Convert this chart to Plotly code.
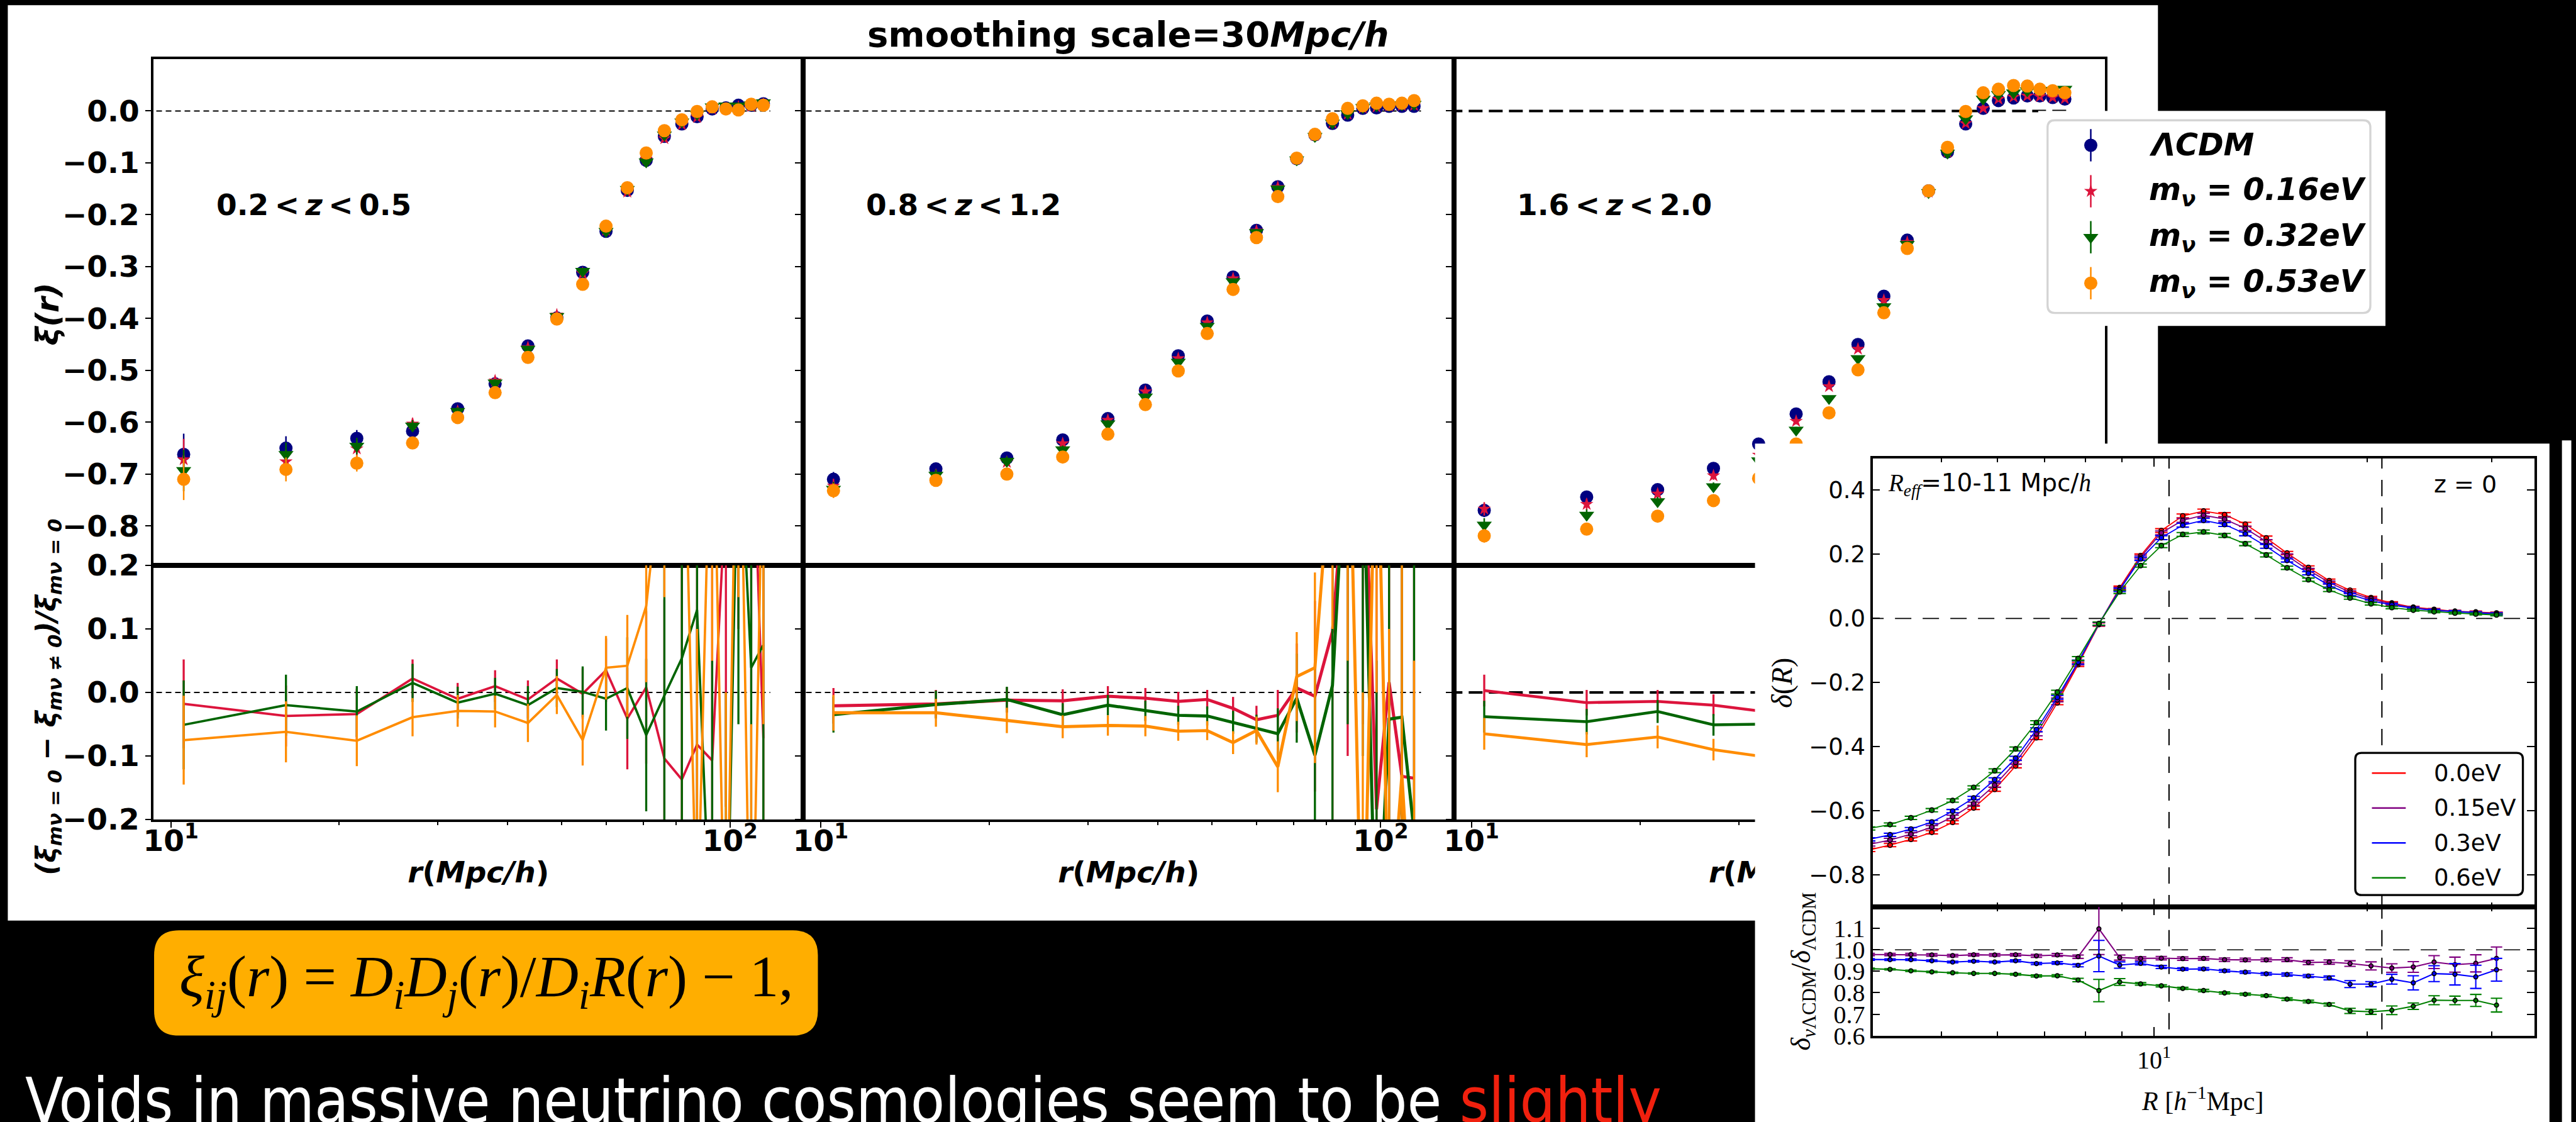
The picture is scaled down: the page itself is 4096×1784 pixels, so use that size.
import math
import plotly.graph_objects as go

# ======================= DATA =======================
# --- main figure: xi(r) for three redshift bins ---
series_names = ["<i>ΛCDM</i>", "<i>m<sub>ν</sub> = 0.16eV</i>",
                "<i>m<sub>ν</sub> = 0.32eV</i>", "<i>m<sub>ν</sub> = 0.53eV</i>"]
series_colors = ["#000080", "#DC143C", "#006400", "#FF8C00"]
series_symbols = ["circle", "star", "triangle-down", "circle"]
series_sizes = [21, 16, 21, 21]
z_bin_labels = ["0.2\u2009&lt;\u2009<i>z</i>\u2009&lt;\u20090.5",
                "0.8\u2009&lt;\u2009<i>z</i>\u2009&lt;\u20091.2",
                "1.6\u2009&lt;\u2009<i>z</i>\u2009&lt;\u20092.0"]
x_title_text = "<b><i>r</i>(<i>Mpc/h</i>)</b>"

r_bins = [10.54, 16.06, 21.5, 27.05, 32.57, 38.0, 43.5, 49.0, 54.5, 60.0,
          65.5, 70.8, 76.3, 82.0, 87.3, 92.9, 98.3, 103.5, 109.1, 114.7]

xi_z1_lcdm = [-0.662, -0.650, -0.631, -0.617, -0.574, -0.526, -0.453, -0.399, -0.311, -0.232,
              -0.153, -0.095, -0.049, -0.025, -0.011, 0.004, 0.006, 0.011, 0.011, 0.014]
xi_z1_m016 = [-0.672, -0.676, -0.651, -0.603, -0.579, -0.520, -0.456, -0.393, -0.313, -0.230,
              -0.156, -0.093, -0.053, -0.026, -0.012, 0.004, 0.004, 0.008, 0.009, 0.013]
xi_z1_m032 = [-0.693, -0.662, -0.646, -0.607, -0.579, -0.524, -0.459, -0.396, -0.309, -0.232,
              -0.151, -0.098, -0.046, -0.021, -0.006, 0.008, 0.010, 0.010, 0.012, 0.016]
xi_z1_m053 = [-0.710, -0.691, -0.679, -0.640, -0.591, -0.543, -0.475, -0.401, -0.334, -0.222,
              -0.148, -0.081, -0.038, -0.017, -0.001, 0.008, 0.004, 0.002, 0.013, 0.011]

xi_z2_lcdm = [-0.710, -0.690, -0.669, -0.634, -0.593, -0.538, -0.472, -0.405, -0.320, -0.230,
              -0.146, -0.092, -0.046, -0.024, -0.008, 0.005, 0.006, 0.009, 0.009, 0.009]
xi_z2_m016 = [-0.723, -0.702, -0.677, -0.641, -0.596, -0.541, -0.477, -0.408, -0.323, -0.231,
              -0.147, -0.092, -0.047, -0.023, -0.006, 0.006, 0.008, 0.010, 0.011, 0.011]
xi_z2_m032 = [-0.729, -0.702, -0.675, -0.653, -0.603, -0.551, -0.484, -0.415, -0.329, -0.234,
              -0.150, -0.094, -0.049, -0.023, -0.005, 0.007, 0.010, 0.011, 0.012, 0.013]
xi_z2_m053 = [-0.732, -0.712, -0.700, -0.667, -0.623, -0.566, -0.501, -0.429, -0.344, -0.244,
              -0.165, -0.091, -0.045, -0.015, 0.005, 0.010, 0.015, 0.013, 0.015, 0.020]

xi_z3_lcdm = [-0.770, -0.744, -0.730, -0.689, -0.642, -0.584, -0.522, -0.450, -0.357, -0.249,
              -0.154, -0.079, -0.025, 0.005, 0.020, 0.025, 0.029, 0.029, 0.026, 0.023]
xi_z3_m016 = [-0.767, -0.758, -0.738, -0.703, -0.663, -0.598, -0.531, -0.459, -0.365, -0.253,
              -0.156, -0.079, -0.024, 0.005, 0.023, 0.027, 0.029, 0.028, 0.026, 0.024]
xi_z3_m032 = [-0.798, -0.779, -0.753, -0.724, -0.674, -0.615, -0.554, -0.477, -0.377, -0.257,
              -0.157, -0.081, -0.015, 0.023, 0.032, 0.035, 0.039, 0.039, 0.040, 0.042]
xi_z3_m053 = [-0.819, -0.806, -0.781, -0.751, -0.708, -0.642, -0.582, -0.499, -0.389, -0.265,
              -0.154, -0.070, -0.001, 0.035, 0.042, 0.049, 0.048, 0.042, 0.039, 0.035]

xi_err_z1 = [0.040, 0.023, 0.016, 0.011, 0.008, 0.007, 0.006, 0.006, 0.005, 0.005,
             0.005, 0.005, 0.004, 0.004, 0.004, 0.004, 0.004, 0.004, 0.004, 0.004]
xi_err_z2 = [0.014, 0.011, 0.009, 0.008, 0.007, 0.006, 0.005, 0.005, 0.005, 0.004,
             0.004, 0.004, 0.004, 0.004, 0.004, 0.004, 0.004, 0.004, 0.004, 0.004]
xi_err_z3 = [0.013, 0.011, 0.009, 0.008, 0.007, 0.006, 0.005, 0.005, 0.005, 0.004,
             0.004, 0.004, 0.004, 0.004, 0.004, 0.004, 0.004, 0.004, 0.004, 0.004]

# relative difference (xi_0 - xi_m)/xi_0 for m = 0.16, 0.32, 0.53 eV
ratio_z1_m016 = [-0.018, -0.037, -0.034, 0.022, -0.010, 0.010, -0.011, 0.022, -0.002, 0.035,
                 -0.041, 0.008, -0.104, -0.137, -0.082, -0.107, 0.32, 0.60, 0.50, -0.072]
ratio_z1_m032 = [-0.051, -0.020, -0.030, 0.015, -0.016, -0.002, -0.020, 0.007, 0.001, -0.010,
                 0.007, -0.067, -0.005, 0.054, 0.130, -0.45, -0.50, 0.45, 0.039, 0.075]
ratio_z1_m053 = [-0.075, -0.062, -0.076, -0.039, -0.029, -0.030, -0.048, -0.004, -0.075, 0.039,
                 0.042, 0.136, 0.40, 0.60, -0.40, 0.55, -0.50, 0.65, -0.55, 0.45]
ratio_err_z1 = [0.070, 0.048, 0.040, 0.030, 0.025, 0.025, 0.030, 0.030, 0.040, 0.050,
                0.080, 0.120, 0.25, 0.40, 0.50, 0.50, 0.50, 0.50, 0.50, 0.50]

ratio_z2_m016 = [-0.021, -0.018, -0.012, -0.013, -0.006, -0.009, -0.014, -0.011, -0.025, -0.043,
                 -0.036, 0.007, -0.006, 0.096, 0.40, 0.45, -0.184, 0.016, -0.132, -0.135]
ratio_z2_m032 = [-0.035, -0.019, -0.011, -0.035, -0.020, -0.029, -0.036, -0.037, -0.047, -0.057,
                 -0.065, -0.009, -0.099, 0.011, 0.45, 0.40, -0.45, -0.042, -0.039, -0.22]
ratio_z2_m053 = [-0.032, -0.032, -0.044, -0.054, -0.052, -0.053, -0.061, -0.060, -0.079, -0.060,
                 -0.117, 0.025, 0.039, 0.40, 0.55, -0.50, 0.50, -0.40, -0.13, -0.45]
ratio_err_z2 = [0.028, 0.022, 0.020, 0.018, 0.016, 0.016, 0.015, 0.015, 0.018, 0.022,
                0.040, 0.070, 0.15, 0.30, 0.50, 0.50, 0.50, 0.50, 0.50, 0.50]

ratio_z3_m016 = [0.003, -0.016, -0.014, -0.020, -0.029]
ratio_z3_m032 = [-0.038, -0.046, -0.030, -0.051, -0.050]
ratio_z3_m053 = [-0.065, -0.082, -0.070, -0.090, -0.100]
ratio_err_z3 = [0.025, 0.020, 0.018, 0.017, 0.017]

xi_ticks = [-0.8, -0.7, -0.6, -0.5, -0.4, -0.3, -0.2, -0.1, 0.0]
ratio_ticks = [-0.2, -0.1, 0.0, 0.1, 0.2]
r_major_ticks = [10, 100]
r_major_text = ["<b>10<sup>1</sup></b>", "<b>10<sup>2</sup></b>"]
r_minor_ticks = [20, 30, 40, 50, 60, 70, 80, 90]
zero_line_r_end = [118.0, 118.0, 118.0]

# --- inset: void density profiles ---
inset_names = ["0.0eV", "0.15eV", "0.3eV", "0.6eV"]
inset_colors = ["#FF0000", "#800080", "#0000FF", "#008000"]
R_void = [3.955, 4.233, 4.531, 4.850, 5.190, 5.558, 5.952, 6.371, 6.818, 7.298, 7.809,
          8.356, 8.942, 9.572, 10.24, 10.98, 11.75, 12.58, 13.46, 14.41, 15.42,
          16.53, 17.69, 18.93, 20.27, 21.69, 23.26, 24.89, 26.64, 28.51, 30.50]
delta_00 = [-0.722, -0.707, -0.689, -0.667, -0.636, -0.591, -0.533, -0.460, -0.372, -0.263, -0.144,
            -0.019, 0.096, 0.196, 0.274, 0.320, 0.335, 0.324, 0.294, 0.251, 0.204,
            0.159, 0.118, 0.088, 0.065, 0.048, 0.035, 0.028, 0.022, 0.020, 0.017]
delta_015 = [-0.705, -0.691, -0.673, -0.651, -0.619, -0.578, -0.520, -0.449, -0.360, -0.254, -0.139,
             -0.017, 0.092, 0.191, 0.267, 0.306, 0.322, 0.310, 0.281, 0.240, 0.196,
             0.151, 0.112, 0.082, 0.061, 0.045, 0.034, 0.027, 0.022, 0.019, 0.016]
delta_03 = [-0.689, -0.675, -0.657, -0.635, -0.601, -0.560, -0.503, -0.436, -0.347, -0.246, -0.136,
            -0.017, 0.089, 0.186, 0.252, 0.291, 0.306, 0.293, 0.264, 0.225, 0.181,
            0.141, 0.103, 0.075, 0.055, 0.042, 0.032, 0.025, 0.021, 0.017, 0.014]
delta_06 = [-0.655, -0.643, -0.622, -0.598, -0.568, -0.527, -0.475, -0.407, -0.325, -0.230, -0.125,
            -0.016, 0.083, 0.165, 0.227, 0.262, 0.270, 0.259, 0.233, 0.198, 0.158,
            0.121, 0.089, 0.064, 0.046, 0.034, 0.026, 0.021, 0.017, 0.014, 0.011]
delta_err = [0.005, 0.005, 0.005, 0.005, 0.005, 0.005, 0.006, 0.006, 0.006, 0.006, 0.006,
             0.005, 0.005, 0.005, 0.006, 0.006, 0.006, 0.006, 0.006, 0.006, 0.005,
             0.005, 0.005, 0.004, 0.004, 0.004, 0.003, 0.003, 0.003, 0.003, 0.003]

ratio_015 = [0.978, 0.978, 0.978, 0.976, 0.973, 0.977, 0.976, 0.977, 0.972, 0.976, 0.968,
             1.098, 0.964, 0.960, 0.961, 0.959, 0.960, 0.954, 0.953, 0.953, 0.954,
             0.941, 0.943, 0.936, 0.925, 0.915, 0.920, 0.943, 0.931, 0.937, 0.960]
ratio_03 = [0.955, 0.954, 0.954, 0.949, 0.943, 0.947, 0.943, 0.949, 0.936, 0.939, 0.928,
            0.971, 0.929, 0.937, 0.920, 0.910, 0.911, 0.902, 0.896, 0.888, 0.885,
            0.878, 0.869, 0.840, 0.840, 0.863, 0.846, 0.889, 0.886, 0.874, 0.907]
ratio_06 = [0.912, 0.909, 0.902, 0.897, 0.893, 0.890, 0.890, 0.886, 0.878, 0.879, 0.859,
            0.810, 0.850, 0.841, 0.832, 0.820, 0.810, 0.799, 0.793, 0.786, 0.770,
            0.759, 0.745, 0.715, 0.711, 0.718, 0.737, 0.765, 0.764, 0.764, 0.742]
ratio_015_err = [0.006, 0.006, 0.006, 0.006, 0.006, 0.006, 0.006, 0.006, 0.007, 0.007, 0.008,
                 0.120, 0.012, 0.008, 0.008, 0.008, 0.008, 0.008, 0.008, 0.008, 0.009,
                 0.010, 0.010, 0.013, 0.019, 0.020, 0.025, 0.030, 0.035, 0.040, 0.053]
ratio_03_err = [0.004, 0.004, 0.004, 0.004, 0.004, 0.004, 0.004, 0.005, 0.005, 0.006, 0.007,
                0.073, 0.015, 0.007, 0.007, 0.006, 0.006, 0.006, 0.006, 0.006, 0.007,
                0.007, 0.009, 0.016, 0.012, 0.023, 0.033, 0.037, 0.050, 0.054, 0.053]
ratio_06_err = [0.003, 0.003, 0.003, 0.003, 0.003, 0.003, 0.003, 0.004, 0.005, 0.005, 0.008,
                0.052, 0.016, 0.006, 0.005, 0.005, 0.006, 0.005, 0.005, 0.005, 0.006,
                0.006, 0.007, 0.012, 0.012, 0.020, 0.015, 0.021, 0.020, 0.028, 0.032]
R_eff_lines = [10.5, 21.0]
delta_ticks = [-0.8, -0.6, -0.4, -0.2, 0.0, 0.2, 0.4]
inset_ratio_ticks = [0.6, 0.7, 0.8, 0.9, 1.0, 1.1]
R_minor_ticks = [4, 5, 6, 7, 8, 9, 20, 30]

# ======================= GEOMETRY (reference pixels) =======================
W_REF, H_REF = 4948.0, 2155.0
S = 4096.0 / W_REF


def X(rx):
    return rx / W_REF


def Y(ry):
    return 1.0 - ry / H_REF


def P(v):
    return v * S


def axname(kind, i):
    return f"{kind}axis" if i == 1 else f"{kind}axis{i}"


def axref(kind, i):
    return kind if i == 1 else f"{kind}{i}"


def rrect(x0, y0, x1, y1, r):
    rx, ry = r / W_REF, r / H_REF
    a, b, c, d = X(x0), X(x1), Y(y1), Y(y0)
    return (f"M {a+rx},{d} L {b-rx},{d} Q {b},{d} {b},{d-ry} "
            f"L {b},{c+ry} Q {b},{c} {b-rx},{c} L {a+rx},{c} Q {a},{c} {a},{c+ry} "
            f"L {a},{d-ry} Q {a},{d} {a+rx},{d} Z")


col_edges = [295, 1543, 2793, 4043]
top_y = (113.5, 1086.0)
bot_y = (1086.0, 1574.0)
xtitle_y = (1646.0, 1716.0)
x_log_range = [0.969, 2.131]
xi_range = [-0.876, 0.1]
ratio_range = [-0.2, 0.2]

MAINFONT = "DejaVu Sans"
SERIF = "Liberation Serif"

fig = go.Figure()
layout = dict(width=4096, height=1784,
              margin=dict(l=0, r=0, t=0, b=0, pad=0, autoexpand=False),
              paper_bgcolor="black", plot_bgcolor="white", showlegend=False,
              font=dict(family=MAINFONT, color="black"))
annotations = []
shapes = []


def ann(text, rx, ry, size, family=MAINFONT, color="black", xanchor="center",
        yanchor="middle", angle=0):
    return dict(text=text, x=X(rx), y=Y(ry), xref="paper", yref="paper", showarrow=False,
                font=dict(size=size, family=family, color=color), xanchor=xanchor,
                yanchor=yanchor, textangle=angle)


hidden = dict(showline=False, showticklabels=False, ticks="", showgrid=False,
              zeroline=False, fixedrange=True, automargin=False)

# background panels
shapes.append(dict(type="rect", xref="paper", yref="paper", x0=X(15), x1=X(4145),
                   y0=Y(1768), y1=Y(10), fillcolor="white", line=dict(width=0), layer="below"))
shapes.append(dict(type="rect", xref="paper", yref="paper", x0=X(4921), x1=X(4939),
                   y0=Y(2155), y1=Y(846), fillcolor="white", line=dict(width=0), layer="below"))

xi_cols = [[xi_z1_lcdm, xi_z1_m016, xi_z1_m032, xi_z1_m053],
           [xi_z2_lcdm, xi_z2_m016, xi_z2_m032, xi_z2_m053],
           [xi_z3_lcdm, xi_z3_m016, xi_z3_m032, xi_z3_m053]]
xi_errs = [xi_err_z1, xi_err_z2, xi_err_z3]
ratio_cols = [[ratio_z1_m016, ratio_z1_m032, ratio_z1_m053],
              [ratio_z2_m016, ratio_z2_m032, ratio_z2_m053],
              [ratio_z3_m016, ratio_z3_m032, ratio_z3_m053]]
ratio_errs = [ratio_err_z1, ratio_err_z2, ratio_err_z3]
zero_dash = ["9px,6px", "9px,6px", "22px,10px"]
zero_width = [P(2.4), P(2.4), P(5)]
ratio_lw = [P(4.5), P(6), P(5.5)]

tickfont_b = dict(family=MAINFONT, size=47, color="black", weight="bold")
x_left = 10 ** x_log_range[0]

for c in range(3):
    it, ib = 2 * c + 1, 2 * c + 2
    dom_x = [X(col_edges[c]), X(col_edges[c + 1])]
    common = dict(showline=True, linewidth=P(5), linecolor="black", mirror=True,
                  showgrid=False, zeroline=False, automargin=False)
    layout[axname("x", it)] = dict(domain=dom_x, type="log", range=x_log_range,
                                   anchor=axref("y", it), showticklabels=False, ticks="", **common)
    layout[axname("y", it)] = dict(domain=[Y(top_y[1]), Y(top_y[0])], range=xi_range,
                                   anchor=axref("x", it), tickmode="array", tickvals=xi_ticks,
                                   tickformat=".1f", ticks="outside", ticklen=P(11),
                                   tickwidth=P(3), tickcolor="black",
                                   showticklabels=(c == 0), tickfont=tickfont_b, **common)
    layout[axname("x", ib)] = dict(domain=dom_x, type="log", range=x_log_range,
                                   anchor=axref("y", ib), tickmode="array",
                                   tickvals=r_major_ticks, ticktext=r_major_text,
                                   ticks="outside", ticklen=P(11), tickwidth=P(3),
                                   tickcolor="black", tickfont=tickfont_b,
                                   ticklabelstandoff=-20,
                                   minor=dict(tickmode="array", tickvals=r_minor_ticks,
                                              ticks="outside", ticklen=P(6), tickwidth=P(2.5),
                                              tickcolor="black"),
                                   **common)
    layout[axname("y", ib)] = dict(domain=[Y(bot_y[1]), Y(bot_y[0])], range=ratio_range,
                                   anchor=axref("x", ib), tickmode="array", tickvals=ratio_ticks,
                                   tickformat=".1f", ticks="outside", ticklen=P(11),
                                   tickwidth=P(3), tickcolor="black",
                                   showticklabels=(c == 0), tickfont=tickfont_b, **common)

    xa_t, ya_t = axref("x", it), axref("y", it)
    xa_b, ya_b = axref("x", ib), axref("y", ib)

    # zero reference lines
    fig.add_trace(go.Scatter(x=[x_left * 0.9, zero_line_r_end[c]], y=[0, 0], mode="lines",
                             line=dict(color="black", width=zero_width[c], dash=zero_dash[c]),
                             xaxis=xa_t, yaxis=ya_t, hoverinfo="skip"))
    fig.add_trace(go.Scatter(x=[x_left * 0.9, zero_line_r_end[c]], y=[0, 0], mode="lines",
                             line=dict(color="black", width=zero_width[c], dash=zero_dash[c]),
                             xaxis=xa_b, yaxis=ya_b, hoverinfo="skip"))

    # xi(r) points
    for s in range(4):
        fig.add_trace(go.Scatter(
            x=r_bins, y=xi_cols[c][s], mode="markers",
            marker=dict(symbol=series_symbols[s], size=series_sizes[s], color=series_colors[s],
                        line=dict(width=0)),
            error_y=dict(type="data", array=xi_errs[c], color=series_colors[s],
                         thickness=P(3), width=0),
            xaxis=xa_t, yaxis=ya_t, hoverinfo="skip"))

    # ratios
    for s in range(3):
        yv = ratio_cols[c][s]
        fig.add_trace(go.Scatter(
            x=r_bins[:len(yv)], y=yv, mode="lines",
            line=dict(color=series_colors[s + 1], width=ratio_lw[c]),
            error_y=dict(type="data", array=ratio_errs[c][:len(yv)], color=series_colors[s + 1],
                         thickness=P(4), width=0),
            xaxis=xa_b, yaxis=ya_b, hoverinfo="skip"))

    # redshift labels
    annotations.append(ann(f"<b>{z_bin_labels[c]}</b>", col_edges[c] + 118, 393, 47,
                           xanchor="left"))

# x-axis titles live in their own small subplots (ids 7-9) so that the inset can cover them
for c in range(3):
    i = 7 + c
    layout[axname("x", i)] = dict(domain=[X(col_edges[c]), X(col_edges[c + 1])], range=[0, 1],
                                  anchor=axref("y", i), **hidden)
    layout[axname("y", i)] = dict(domain=[Y(xtitle_y[1]), Y(xtitle_y[0])], range=[0, 1],
                                  anchor=axref("x", i), **hidden)
    fig.add_trace(go.Scatter(x=[0.5], y=[0.5], mode="text", text=[x_title_text],
                             textfont=dict(size=47, family=MAINFONT, color="black"),
                             textposition="middle center", cliponaxis=False,
                             xaxis=axref("x", i), yaxis=axref("y", i), hoverinfo="skip"))

# titles / axis labels of the main figure
annotations.append(ann("<b>smoothing scale=30<i>Mpc/h</i></b>", 2167, 66, 56))
annotations.append(ann("<b><i>ξ(r)</i></b>", 92, 603, 50, angle=-90))
annotations.append(ann("<b><i>(ξ<sub>mν = 0</sub> − ξ<sub>mν ≠ 0</sub>)/ξ<sub>mν = 0</sub></i></b>",
                       92, 1339, 44, angle=-90))

# ---------------- inset cover (white picture pasted on top) ----------------
layout["xaxis10"] = dict(domain=[X(3371), X(4897)], range=[0, 1], anchor="y10", **hidden)
layout["yaxis10"] = dict(domain=[0, Y(852)], range=[0, 1], anchor="x10", **hidden)
fig.add_trace(go.Scatter(x=[None], y=[None], mode="markers", xaxis="x10", yaxis="y10",
                         hoverinfo="skip"))

# inset axes
R_range = [math.log10(4.0), math.log10(34.5)]
inset_common = dict(showline=True, linewidth=P(5), linecolor="black", mirror="ticks",
                    showgrid=False, zeroline=False, automargin=False)
layout["xaxis11"] = dict(domain=[X(3597), X(4868)], type="log", range=R_range, anchor="y11",
                         tickmode="array", tickvals=[10], showticklabels=False,
                         ticks="inside", ticklen=P(16), tickwidth=P(2), tickcolor="black",
                         minor=dict(tickmode="array", tickvals=R_minor_ticks, ticks="inside",
                                    ticklen=P(8), tickwidth=P(2), tickcolor="black"),
                         **inset_common)
layout["yaxis11"] = dict(domain=[Y(1742), Y(880)], range=[-0.9, 0.5], anchor="x11",
                         tickmode="array", tickvals=delta_ticks, tickformat=".1f",
                         ticks="inside", ticklen=P(14), tickwidth=P(2), tickcolor="black",
                         tickfont=dict(family=MAINFONT, size=37, color="black"),
                         **inset_common)
layout["xaxis12"] = dict(domain=[X(3597), X(4868)], type="log", range=R_range, anchor="y12",
                         tickmode="array", tickvals=[10], ticktext=["10<sup>1</sup>"],
                         tickfont=dict(family=SERIF, size=40, color="black"),
                         ticks="inside", ticklen=P(16), tickwidth=P(2), tickcolor="black",
                         minor=dict(tickmode="array", tickvals=R_minor_ticks, ticks="inside",
                                    ticklen=P(8), tickwidth=P(2), tickcolor="black"),
                         **inset_common)
layout["yaxis12"] = dict(domain=[Y(1989), Y(1742)], range=[0.6, 1.2], anchor="x12",
                         tickmode="array", tickvals=inset_ratio_ticks, tickformat=".1f",
                         ticks="inside", ticklen=P(14), tickwidth=P(2), tickcolor="black",
                         tickfont=dict(family=SERIF, size=40, color="black"),
                         **inset_common)

inset_dash = "26px,18px"
# reference lines in inset
fig.add_trace(go.Scatter(x=[3.0, 40.0], y=[0, 0], mode="lines",
                         line=dict(color="black", width=P(2), dash=inset_dash),
                         xaxis="x11", yaxis="y11", hoverinfo="skip"))
fig.add_trace(go.Scatter(x=[3.0, 40.0], y=[1.0, 1.0], mode="lines",
                         line=dict(color="black", width=P(2), dash=inset_dash),
                         xaxis="x12", yaxis="y12", hoverinfo="skip"))
for rv in R_eff_lines:
    fig.add_trace(go.Scatter(x=[rv, rv], y=[-1.0, 0.6], mode="lines",
                             line=dict(color="black", width=P(2.5), dash=inset_dash),
                             xaxis="x11", yaxis="y11", hoverinfo="skip"))
    fig.add_trace(go.Scatter(x=[rv, rv], y=[0.5, 1.3], mode="lines",
                             line=dict(color="black", width=P(2.5), dash=inset_dash),
                             xaxis="x12", yaxis="y12", hoverinfo="skip"))

delta_series = [delta_00, delta_015, delta_03, delta_06]
for k in range(4):
    fig.add_trace(go.Scatter(
        x=R_void, y=delta_series[k], mode="lines+markers",
        line=dict(color=inset_colors[k], width=P(2.2)),
        marker=dict(symbol="circle", size=P(9), color=inset_colors[k],
                    line=dict(color="black", width=P(2))),
        error_y=dict(type="data", array=delta_err, color=inset_colors[k],
                     thickness=P(2.5), width=P(12)),
        xaxis="x11", yaxis="y11", hoverinfo="skip"))

ratio_series = [ratio_015, ratio_03, ratio_06]
ratio_series_err = [ratio_015_err, ratio_03_err, ratio_06_err]
for k in range(3):
    fig.add_trace(go.Scatter(
        x=R_void, y=ratio_series[k], mode="lines+markers",
        line=dict(color=inset_colors[k + 1], width=P(2.5)),
        marker=dict(symbol="circle", size=P(8), color=inset_colors[k + 1],
                    line=dict(color="black", width=P(2))),
        error_y=dict(type="data", array=ratio_series_err[k], color=inset_colors[k + 1],
                     thickness=P(2.5), width=P(11)),
        xaxis="x12", yaxis="y12", hoverinfo="skip"))

# inset texts
annotations.append(ann('<span style="font-family:Liberation Serif"><i>R<sub>eff</sub></i></span>'
                       '=10-11 Mpc/<span style="font-family:Liberation Serif"><i>h</i></span>',
                       3624, 930, 39, xanchor="left"))
annotations.append(ann("z = 0", 4798, 930, 38, xanchor="right"))
annotations.append(ann("<i>δ</i>(<i>R</i>)", 3423, 1312, 46, family=SERIF, angle=-90))
annotations.append(ann("<i>δ</i><sub><i>ν</i>ΛCDM</sub>/<i>δ</i><sub>ΛCDM</sub>", 3463, 1866, 44,
                       family=SERIF, angle=-90))
annotations.append(ann("<i>R</i> [<i>h</i><sup>−1</sup>Mpc]", 4231, 2111, 42, family=SERIF))

# inset legend
shapes.append(dict(type="path", xref="paper", yref="paper",
                   path=rrect(4524, 1446, 4846, 1719, 12), fillcolor="white",
                   line=dict(color="black", width=P(4)), layer="above"))
inset_leg_y0, inset_leg_dy = 1485, 67
for k in range(4):
    yy = inset_leg_y0 + k * inset_leg_dy
    shapes.append(dict(type="line", xref="paper", yref="paper", x0=X(4556), x1=X(4621),
                       y0=Y(yy), y1=Y(yy), line=dict(color=inset_colors[k], width=P(3)),
                       layer="above"))
    annotations.append(ann(inset_names[k], 4672, yy, 37, xanchor="left"))

# ---------------- main legend (pasted white panel) ----------------
layout["xaxis13"] = dict(domain=[X(3915), X(4582)], range=[3915, 4582], anchor="y13", **hidden)
layout["yaxis13"] = dict(domain=[Y(626), Y(213)], range=[626, 213], anchor="x13", **hidden)
leg_x_marker, leg_x_text, leg_y0, leg_dy = 4016, 4125, 279, 88.3
for s in range(4):
    yy = leg_y0 + s * leg_dy
    fig.add_trace(go.Scatter(
        x=[leg_x_marker], y=[yy], mode="markers",
        marker=dict(symbol=series_symbols[s], size=series_sizes[s], color=series_colors[s],
                    line=dict(width=0)),
        error_y=dict(type="data", array=[31], color=series_colors[s], thickness=P(3), width=0),
        xaxis="x13", yaxis="y13", hoverinfo="skip", cliponaxis=False))
    annotations.append(ann(f"<b>{series_names[s]}</b>", leg_x_text, yy, 49, xanchor="left"))
shapes.append(dict(type="path", xref="paper", yref="paper",
                   path=rrect(3933, 231, 4553, 601, 14),
                   line=dict(color="#D4D4D4", width=P(4)), layer="above"))

# ---------------- slide elements ----------------
shapes.append(dict(type="path", xref="paper", yref="paper",
                   path=rrect(296, 1787, 1571, 1989, 48), fillcolor="#FFAE00",
                   line=dict(width=0), layer="below"))
annotations.append(ann("<i>ξ<sub>ij</sub></i>(<i>r</i>) = <i>D<sub>i</sub>D<sub>j</sub></i>(<i>r</i>)/"
                       "<i>D<sub>i</sub>R</i>(<i>r</i>) − 1,", 934, 1884, 93, family=SERIF))
annotations.append(ann('Voids in massive neutrino cosmologies seem to be '
                       '<span style="color:#F0200E">slightly</span>',
                       46, 2114, 99, family="DejaVu Sans Condensed, Noto Sans", color="white",
                       xanchor="left"))

layout["annotations"] = annotations
layout["shapes"] = shapes
fig.update_layout(**layout)
fig.write_html("out.html")
